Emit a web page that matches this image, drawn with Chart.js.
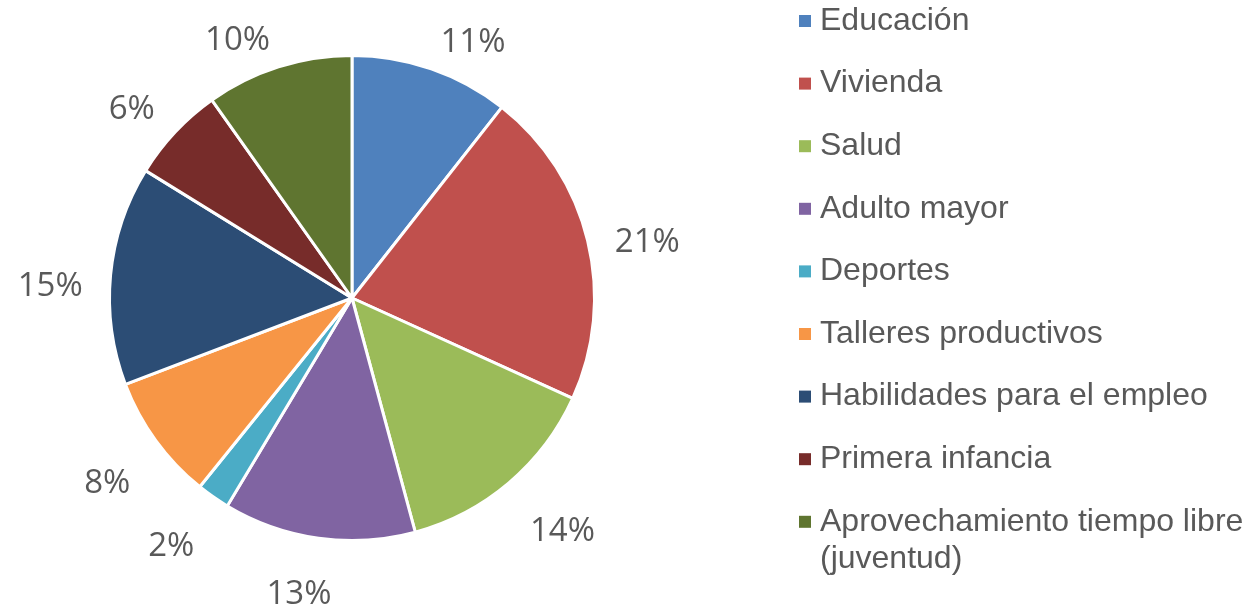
<!DOCTYPE html>
<html>
<head>
<meta charset="utf-8">
<script src="https://cdn.jsdelivr.net/npm/chart.js@4.4.1/dist/chart.umd.min.js"></script>
<style>
  html, body { margin: 0; padding: 0; background: #ffffff; }
  #wrap { width: 1249px; height: 610px; position: relative; }
</style>
</head>
<body>
<div id="wrap"><canvas id="ProgramPieChart"></canvas></div>
<script>
// categories and shares (percent)
const categories = [
    "Educación",
    "Vivienda",
    "Salud",
    "Adulto mayor",
    "Deportes",
    "Talleres productivos",
    "Habilidades para el empleo",
    "Primera infancia",
    "Aprovechamiento tiempo libre (juventud)"
];
const shares = [10.6, 21.2, 14.0, 12.8, 2.2, 8.4, 14.6, 6.4, 9.8];
const sliceColors = [
    "#4F81BD", "#C0504D", "#9BBB59", "#8064A2", "#4BACC6",
    "#F79646", "#2C4D75", "#772C2A", "#5F7530"
];

const textColor = "#595959";

// percentage labels just outside each slice
const outsideLabels = {
    id: "outsideLabels",
    afterDatasetsDraw(chart) {
        const ctx = chart.ctx;
        const meta = chart.getDatasetMeta(0);
        const data = chart.data.datasets[0].data;
        const total = data.reduce((a, b) => a + b, 0);
        ctx.save();
        ctx.font = "33px 'Open Sans'";
        ctx.fillStyle = textColor;
        ctx.textAlign = "center";
        ctx.textBaseline = "middle";
        meta.data.forEach(function (arc, i) {
            const mid = (arc.startAngle + arc.endAngle) / 2;
            const ux = Math.cos(mid), uy = Math.sin(mid);
            const text = Math.round(data[i] / total * 100) + "%";
            const w = ctx.measureText(text).width;
            const h = 26;
            const gap = 14 + 13 * Math.max(0, uy);
            const r = arc.outerRadius + gap;
            const cx = Math.max(-1, Math.min(1, ux / 0.3));
            const cy = Math.max(-1, Math.min(1, uy / 0.3));
            const drop = 17 * Math.max(0, Math.min(1, (uy + 0.6) / 0.4));
            const x = arc.x + r * ux + 14 * ux * (1 - 0.5 * Math.max(0, uy)) + (w / 2) * cx;
            const y = arc.y + r * uy + (h / 2) * cy + drop;
            ctx.fillText(text, x, y);
        });
        ctx.restore();
    }
};

// legend on the right, with word wrap for long entries
const sideLegend = {
    id: "sideLegend",
    afterDraw(chart) {
        const ctx = chart.ctx;
        const markX = 799, textX = 820, maxW = 428;
        const firstY = 21, rowStep = 62.6, lineStep = 37;
        ctx.save();
        ctx.font = "32px 'Liberation Sans', Arial, sans-serif";
        ctx.textBaseline = "middle";
        ctx.textAlign = "left";
        chart.data.labels.forEach(function (label, i) {
            const y = firstY + i * rowStep;
            ctx.fillStyle = sliceColors[i];
            ctx.fillRect(markX, y - 6, 12, 12);
            // wrap words
            const words = label.split(" ");
            let lines = [], line = "";
            words.forEach(function (wd) {
                const test = line ? line + " " + wd : wd;
                if (ctx.measureText(test).width > maxW && line) {
                    lines.push(line);
                    line = wd;
                } else {
                    line = test;
                }
            });
            lines.push(line);
            ctx.fillStyle = textColor;
            lines.forEach(function (ln, j) {
                ctx.fillText(ln, textX, y + j * lineStep);
            });
        });
        ctx.restore();
    }
};

const pieCanvas = document.getElementById("ProgramPieChart");
const programChart = new Chart(pieCanvas, {
    type: "pie",
    data: {
        labels: categories,
        datasets: [
            {
                data: shares,
                backgroundColor: sliceColors,
                borderColor: "#ffffff",
                borderWidth: 3
            }
        ]
    },
    options: {
        responsive: true,
        maintainAspectRatio: false,
        animation: false,
        layout: {
            padding: { left: 106, top: 54, right: 651, bottom: 68 }
        },
        plugins: {
            legend: { display: false },
            tooltip: { enabled: false }
        }
    },
    plugins: [outsideLabels, sideLegend]
});
</script>
</body>
</html>
